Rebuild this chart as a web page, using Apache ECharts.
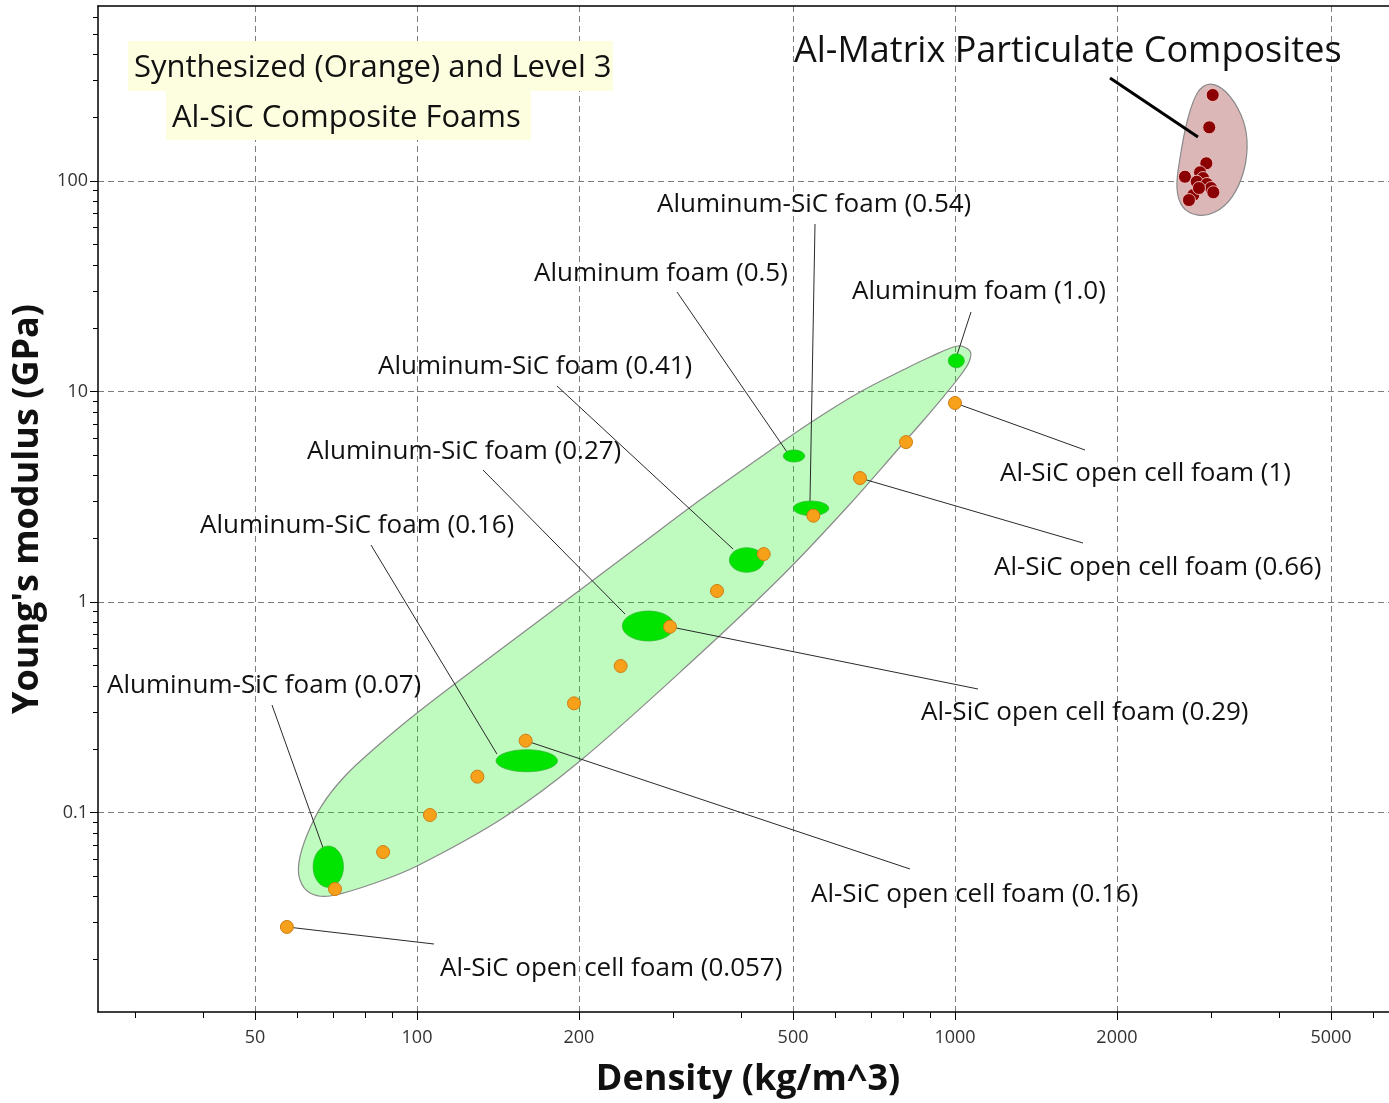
<!DOCTYPE html>
<html>
<head>
<meta charset="utf-8">
<script src="https://cdn.jsdelivr.net/npm/echarts@6/dist/echarts.min.js"></script>
<style>
html,body{margin:0;padding:0;background:#fff;}
#chart{width:1389px;height:1103px;}
</style>
</head>
<body>
<div id="chart"></div>
<script>
// ---------------- DATA ----------------
// Axis tick values
const xMajorTicks = [50, 100, 200, 500, 1000, 2000, 5000];
const xMinorTicks = [30, 40, 60, 70, 80, 90, 300, 400, 600, 700, 800, 900, 3000, 4000, 6000];
const yMajorTicks = [0.1, 1, 10, 100];
const yMinorTicks = [0.02, 0.03, 0.04, 0.05, 0.06, 0.07, 0.08, 0.09,
  0.2, 0.3, 0.4, 0.5, 0.6, 0.7, 0.8, 0.9,
  2, 3, 4, 5, 6, 7, 8, 9,
  20, 30, 40, 50, 60, 70, 80, 90,
  200, 300, 400, 500, 600];

// Synthesized Al-SiC open cell foams (orange points)
const orangeDensity = [57.3, 70.4, 86.5, 105.7, 129.5, 159.2, 195.8, 239.1, 295.3, 361.1, 441, 545.4, 666, 811, 1000];
const orangeModulus = [0.0286, 0.0433, 0.0649, 0.0973, 0.148, 0.2194, 0.330, 0.4966, 0.763, 1.128, 1.69, 2.57, 3.88, 5.75, 8.82];

// Level 3 foams (green bubbles): density and modulus ranges
const bubbleNames = ['Aluminum-SiC foam (0.07)', 'Aluminum-SiC foam (0.16)', 'Aluminum-SiC foam (0.27)',
  'Aluminum-SiC foam (0.41)', 'Aluminum foam (0.5)', 'Aluminum-SiC foam (0.54)', 'Aluminum foam (1.0)'];
const bubbleDensityLow  = [64.1, 140.3, 240.8, 380.7, 479.6, 500.6, 971.7];
const bubbleDensityHigh = [73.0, 182.4, 300.8, 441.6, 525.6, 582.5, 1040.6];
const bubbleModulusLow  = [0.0441, 0.1562, 0.653, 1.384, 4.626, 2.573, 12.98];
const bubbleModulusHigh = [0.0693, 0.1987, 0.906, 1.811, 5.274, 3.018, 15.12];

// Al-matrix particulate composites (dark red points)
const compositeDensity = [3013, 2969, 2932, 2854, 2676, 2891, 2814, 2940, 2991, 3021, 2773, 2722, 2841];
const compositeModulus = [256.2, 179.9, 121.4, 110.0, 104.8, 103.3, 99.2, 96.8, 92.6, 88.4, 85.8, 81.2, 92.6];

// Envelope outlines (density, modulus)
const foamEnvelopeDensity = [1066.3, 1061.8, 1021.6, 954.0, 868.3, 790.3, 638.0, 478.9, 321.8, 200.9, 144.5, 100, 83.55,
  68.93, 63.26, 60.61, 60.35, 62.45, 66.60, 73.48, 83.55, 100, 142.6, 200.9, 259.7, 335.8, 424.9, 537.6, 665.9, 807.4, 898.5, 1012.9];
const foamEnvelopeModulus = [15.57, 13.81, 11.85, 9.520, 7.164, 5.450, 2.921, 1.344, 0.5131, 0.1757, 0.09416, 0.05568, 0.04625,
  0.04012, 0.04146, 0.04778, 0.05817, 0.07816, 0.1085, 0.1491, 0.2024, 0.2970, 0.5914, 1.1402, 1.8654, 3.0515, 4.676, 7.086, 9.945, 12.79, 14.58, 16.45];
const compositeEnvelopeDensity = [2978, 3189, 3401, 3489, 3445, 3272, 3043, 2829, 2653, 2586, 2620, 2711, 2829];
const compositeEnvelopeModulus = [288.9, 264.7, 205.9, 156.6, 112.8, 83.9, 71.2, 68.9, 75.2, 92.6, 128.6, 199.2, 264.7];

// Annotations: text and the data point each leader line points to
const annotationTexts = ['Aluminum-SiC foam (0.07)', 'Aluminum-SiC foam (0.16)', 'Aluminum-SiC foam (0.27)',
  'Aluminum-SiC foam (0.41)', 'Aluminum foam (0.5)', 'Aluminum-SiC foam (0.54)', 'Aluminum foam (1.0)',
  'Al-SiC open cell foam (1)', 'Al-SiC open cell foam (0.66)', 'Al-SiC open cell foam (0.29)',
  'Al-SiC open cell foam (0.16)', 'Al-SiC open cell foam (0.057)', 'Al-Matrix Particulate Composites'];
const annotationAnchorDensity = [66.9, 140.8, 243.6, 386.8, 487.2, 537.6, 1008.6, 1000, 666, 295.3, 159.2, 57.3, 2829];
const annotationAnchorModulus = [0.0678, 0.1896, 0.877, 1.785, 5.16, 2.986, 14.91, 8.82, 3.88, 0.763, 0.2194, 0.0286, 161.8];

const titleLines = ['Synthesized (Orange) and Level 3', 'Al-SiC Composite Foams'];
const xAxisTitle = 'Density (kg/m^3)';
const yAxisTitle = "Young's modulus (GPa)";

// ---------------- LAYOUT (pixels) ----------------
// tx,ty: text left / vertical centre; sx,sy: leader start; size: font size; lw: leader width
const annotationLayout = [
  {tx:107, ty:686, sx:272, sy:705, size:26, lw:1},
  {tx:200, ty:526, sx:371, sy:545, size:26, lw:1},
  {tx:307, ty:452, sx:483, sy:470, size:26, lw:1},
  {tx:378, ty:367, sx:557, sy:386, size:26, lw:1},
  {tx:534, ty:274, sx:677, sy:292, size:26, lw:1},
  {tx:657, ty:205, sx:815, sy:224, size:26, lw:1},
  {tx:852, ty:292, sx:971, sy:312, size:26, lw:1},
  {tx:1000, ty:474, sx:1085, sy:450, size:26, lw:1},
  {tx:994, ty:568, sx:1083, sy:543, size:26, lw:1},
  {tx:921, ty:713, sx:978, sy:689, size:26, lw:1},
  {tx:811, ty:895, sx:910, sy:869, size:26, lw:1},
  {tx:440, ty:969, sx:434, sy:944, size:26, lw:1},
  {tx:794, ty:52, sx:1110, sy:78, size:36, lw:3}
];

const FONT = "'Open Sans', 'Noto Sans', sans-serif";
const X_MIN = 25.53, X_MAX = 6408, Y_MIN = 0.01128, Y_MAX = 678.3;
const gridLine = {color: '#7c7c7c', type: [6, 4], width: 1};

const chart = echarts.init(document.getElementById('chart'), null, {renderer: 'canvas'});

function pairs(a, b) { return a.map((v, i) => [v, b[i]]); }

const option = {
  animation: false,
  backgroundColor: '#ffffff',
  grid: {left: 98, right: 0, top: 6, bottom: 91, show: false},
  xAxis: [
    {
      type: 'log', logBase: 10, min: X_MIN, max: X_MAX, position: 'bottom',
      name: xAxisTitle, nameLocation: 'middle', nameGap: 50,
      nameTextStyle: {fontFamily: FONT, fontWeight: 'bold', fontSize: 36, color: '#111', padding: [0, 0, 0, 9]},
      axisLine: {show: true, onZero: false, lineStyle: {color: '#000', width: 1.5}},
      axisTick: {show: true, customValues: xMajorTicks, length: 8, lineStyle: {color: '#000', width: 1}},
      axisLabel: {show: true, customValues: xMajorTicks, margin: 17, fontSize: 18, color: '#333', fontFamily: FONT,
                  formatter: v => String(v)},
      splitLine: {show: true, lineStyle: gridLine},
      minorTick: {show: false}, minorSplitLine: {show: false}
    },
    {
      type: 'log', logBase: 10, min: X_MIN, max: X_MAX, position: 'bottom',
      axisLine: {show: false},
      axisTick: {show: true, customValues: xMinorTicks, length: 6, lineStyle: {color: '#000', width: 1}},
      axisLabel: {show: false},
      splitLine: {show: false}
    },
    {
      type: 'log', logBase: 10, min: X_MIN, max: X_MAX, position: 'top',
      axisLine: {show: true, onZero: false, lineStyle: {color: '#000', width: 1.5}},
      axisTick: {show: false}, axisLabel: {show: false}, splitLine: {show: false}
    }
  ],
  yAxis: [
    {
      type: 'log', logBase: 10, min: Y_MIN, max: Y_MAX, position: 'left',
      name: yAxisTitle, nameLocation: 'middle', nameGap: 48,
      nameTextStyle: {fontFamily: FONT, fontWeight: 'bold', fontSize: 36, color: '#111'},
      axisLine: {show: true, onZero: false, lineStyle: {color: '#000', width: 1.5}},
      axisTick: {show: true, customValues: yMajorTicks, length: 8, lineStyle: {color: '#000', width: 1}},
      axisLabel: {show: true, customValues: yMajorTicks, margin: 10, fontSize: 18, color: '#333', fontFamily: FONT,
                  formatter: v => String(v)},
      splitLine: {show: true, lineStyle: gridLine},
      minorTick: {show: false}, minorSplitLine: {show: false}
    },
    {
      type: 'log', logBase: 10, min: Y_MIN, max: Y_MAX, position: 'left',
      axisLine: {show: false},
      axisTick: {show: true, customValues: yMinorTicks, length: 5, lineStyle: {color: '#000', width: 1}},
      axisLabel: {show: false},
      splitLine: {show: false}
    }
  ],
  graphic: [
    {type: 'rect', shape: {x: 128, y: 41, width: 485, height: 50}, style: {fill: '#fdfde0'}, z: 50},
    {type: 'rect', shape: {x: 166, y: 91, width: 365, height: 49}, style: {fill: '#fdfde0'}, z: 50},
    {type: 'text', x: 134, y: 68, z: 51,
     style: {text: titleLines[0], font: '31px ' + FONT, fill: '#111', align: 'left', verticalAlign: 'middle'}},
    {type: 'text', x: 172, y: 118, z: 51,
     style: {text: titleLines[1], font: '31px ' + FONT, fill: '#111', align: 'left', verticalAlign: 'middle'}}
  ],
  series: [
    {
      name: 'Foam envelope', type: 'custom', coordinateSystem: 'cartesian2d', silent: true, z: 1,
      data: pairs(foamEnvelopeDensity, foamEnvelopeModulus),
      renderItem: (params, api) => {
        if (params.dataIndex !== 0) return null;
        const pts = foamEnvelopeDensity.map((d, k) => api.coord([d, foamEnvelopeModulus[k]]));
        return {type: 'polygon', shape: {points: pts, smooth: 0.33},
                style: {fill: 'rgba(20,235,20,0.27)', stroke: '#8a8a8a', lineWidth: 1.2}};
      }
    },
    {
      name: 'Composite envelope', type: 'custom', coordinateSystem: 'cartesian2d', silent: true, z: 1,
      data: pairs(compositeEnvelopeDensity, compositeEnvelopeModulus),
      renderItem: (params, api) => {
        if (params.dataIndex !== 0) return null;
        const pts = compositeEnvelopeDensity.map((d, k) => api.coord([d, compositeEnvelopeModulus[k]]));
        return {type: 'polygon', shape: {points: pts, smooth: 0.35},
                style: {fill: '#dbb7b7', stroke: '#8a8a8a', lineWidth: 1.2}};
      }
    },
    {
      name: 'Annotations', type: 'custom', coordinateSystem: 'cartesian2d', silent: true, z: 3,
      data: pairs(annotationAnchorDensity, annotationAnchorModulus),
      renderItem: (params, api) => {
        const i = params.dataIndex;
        const L = annotationLayout[i];
        const end = api.coord([api.value(0), api.value(1)]);
        return {type: 'group', children: [
          {type: 'line', shape: {x1: L.sx, y1: L.sy, x2: end[0], y2: end[1]},
           style: {stroke: L.lw > 1 ? '#000' : '#2a2a2a', lineWidth: L.lw}},
          {type: 'text', x: L.tx, y: L.ty,
           style: {text: annotationTexts[i], font: L.size + 'px ' + FONT, fill: '#111', align: 'left', verticalAlign: 'middle'}}
        ]};
      }
    },
    {
      name: 'Level 3 foams', type: 'custom', coordinateSystem: 'cartesian2d', silent: true, z: 4,
      dimensions: ['dLow', 'dHigh', 'eLow', 'eHigh'],
      encode: {x: [0, 1], y: [2, 3]},
      data: bubbleNames.map((n, i) => [bubbleDensityLow[i], bubbleDensityHigh[i], bubbleModulusLow[i], bubbleModulusHigh[i]]),
      renderItem: (params, api) => {
        const p1 = api.coord([api.value(0), api.value(3)]);
        const p2 = api.coord([api.value(1), api.value(2)]);
        return {type: 'ellipse',
                shape: {cx: (p1[0] + p2[0]) / 2, cy: (p1[1] + p2[1]) / 2,
                        rx: Math.abs(p2[0] - p1[0]) / 2, ry: Math.abs(p2[1] - p1[1]) / 2},
                style: {fill: '#00e400', stroke: '#33bb33', lineWidth: 0.8}};
      }
    },
    {
      name: 'Synthesized foams', type: 'scatter', silent: true, z: 5,
      data: pairs(orangeDensity, orangeModulus),
      symbol: 'circle', symbolSize: 13,
      itemStyle: {color: '#f7a11a', borderColor: '#cf7e14', borderWidth: 1, opacity: 1}
    },
    {
      name: 'Al-matrix composites', type: 'scatter', silent: true, z: 5,
      data: pairs(compositeDensity, compositeModulus),
      symbol: 'circle', symbolSize: 13,
      itemStyle: {color: '#8b0000', borderColor: 'rgba(245,205,205,0.85)', borderWidth: 1, opacity: 1}
    }
  ]
};

chart.setOption(option);
</script>
</body>
</html>
